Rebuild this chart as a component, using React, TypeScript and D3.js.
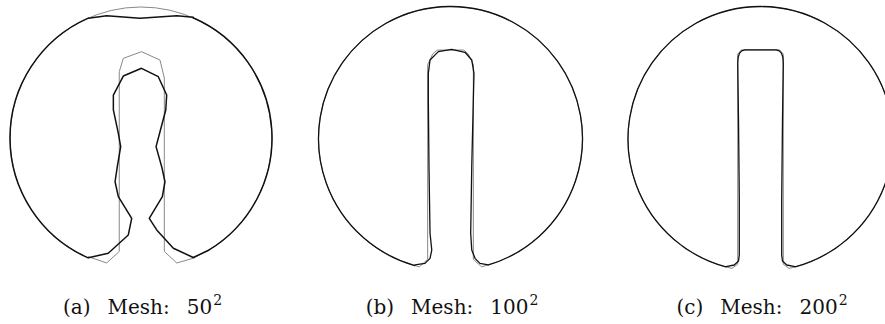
import React from "react";
import * as d3 from "d3";

// Interface contours in disk-local units: disk centre at (0,0), radius 100, y pointing up.
// Each contour is a list of point runs; consecutive runs are joined by the disk's circular arc
// (traversed clockwise on screen), and the last run wraps back to the first.

// (a) 50^2 mesh
const exactA: [number, number][][] = [[
  [41.2, -91.4], [27.3, -95.4], [17.8, -86.6], [17.8, 45.8], [14.5, 59.5], [0.4, 65.9],
  [-13.5, 60.8], [-16.6, 50.6], [-16.6, -86.6], [-26.2, -95.4], [-40.2, -90.6],
]];
const computedA: [number, number][][] = [
  [[-40.2, 91.4], [-26.2, 93.4], [-0.8, 91.4], [27.3, 93.4], [39.9, 92.1]],
  [
    [52.0, -85.5], [39.9, -91.2], [24.7, -84.2], [12.0, -70.2], [6.3, -61.3], [16.3, -44.8],
    [18.3, -33.4], [15.8, -21.9], [11.5, -6.6], [14.5, 4.8], [18.9, 21.4], [19.6, 32.8],
    [13.2, 46.8], [0.4, 53.2], [-13.5, 47.3], [-21.1, 32.8], [-21.1, 21.4], [-17.3, 3.6],
    [-15.5, -6.6], [-18.1, -21.9], [-19.8, -33.4], [-17.3, -44.8], [-7.1, -61.3],
    [-9.7, -74.0], [-25.0, -88.0], [-40.2, -91.4],
  ],
];

// (b) 100^2 mesh
const exactB: [number, number][][] = [[
  [23.5, -97.2], [17.3, -91.5], [17.3, 56], [13.5, 64], [10, 67], [-10, 67], [-13.5, 64],
  [-17.3, 56], [-17.3, -91.5], [-23.5, -97.2],
]];
const computedB: [number, number][][] = [[
  [28.6, -95.8], [22.3, -94.6], [18.6, -90.8], [16.1, -84.5], [15.3, -71.8], [16.1, -21.4],
  [17.3, 29.2], [17.8, 49.4], [16.1, 59.5], [11, 65.3], [0.9, 67.6], [-9.2, 65.8],
  [-15.5, 59.5], [-16.8, 49.4], [-16.8, 29.2], [-16.3, -21.4], [-15.5, -71.8],
  [-14.2, -84.5], [-15.5, -90.8], [-19.3, -94.6], [-26.9, -95.8],
]];

// (c) 200^2 mesh
const exactC: [number, number][][] = [[
  [21.5, -97.6], [17.2, -94.5], [17.2, 64], [14.5, 67.2], [-14.5, 67.2], [-17.2, 64],
  [-17.2, -94.5], [-21.5, -97.6],
]];
const computedC: [number, number][][] = [[
  [26.0, -96.4], [19.8, -95.1], [16.6, -92.1], [16.0, -87.5], [16.0, -46.0], [16.6, 14.3],
  [17.2, 57.0], [16.9, 61.5], [15.9, 64.6], [14.2, 66.5], [11.8, 67.3], [-11.8, 67.3],
  [-14.2, 66.5], [-15.9, 64.6], [-16.9, 61.5], [-17.2, 57.0],
  [-16.6, 14.3], [-16.0, -46.0], [-16.0, -87.5], [-16.6, -92.1], [-19.8, -95.1],
  [-26.0, -96.4],
]];

const captionTags = ["(a)", "(b)", "(c)"];
const captionWord = "Mesh:";
const captionSizes = ["50", "100", "200"];
const captionExponent = "2";

const panels = [
  { cx: 141, cy: 138, r: 131, exact: exactA, computed: computedA, heavy: 1.5 },
  { cx: 450.5, cy: 138.5, r: 132, exact: exactB, computed: computedB, heavy: 1.3 },
  { cx: 760.5, cy: 139, r: 132.5, exact: exactC, computed: computedC, heavy: 1.3 },
];

function contourPath(
  runs: [number, number][][],
  sx: d3.ScaleLinear<number, number>,
  sy: d3.ScaleLinear<number, number>,
  cx: number,
  cy: number,
  r: number
): string {
  const p = d3.path();
  runs.forEach((run, i) => {
    run.forEach(([u, v], j) => {
      if (i === 0 && j === 0) p.moveTo(sx(u), sy(v));
      else p.lineTo(sx(u), sy(v));
    });
    const last = run[run.length - 1];
    const next = runs[(i + 1) % runs.length][0];
    const a0 = Math.atan2(sy(last[1]) - cy, sx(last[0]) - cx);
    const a1 = Math.atan2(sy(next[1]) - cy, sx(next[0]) - cx);
    p.arc(cx, cy, r, a0, a1, false);
  });
  p.closePath();
  return p.toString();
}

export default function App() {
  return (
    <svg
      width={885}
      height={324}
      viewBox="0 0 885 324"
      style={{ position: "absolute", left: 0, top: 0, background: "#fff" }}
    >
      {panels.map((pn, i) => {
        const sx = d3.scaleLinear().domain([-100, 100]).range([pn.cx - pn.r, pn.cx + pn.r]);
        const sy = d3.scaleLinear().domain([-100, 100]).range([pn.cy + pn.r, pn.cy - pn.r]);
        return (
          <g key={i}>
            <path
              d={contourPath(pn.exact, sx, sy, pn.cx, pn.cy, pn.r)}
              fill="none"
              stroke="#7a7a7a"
              strokeWidth={0.9}
              strokeLinejoin="round"
            />
            <path
              d={contourPath(pn.computed, sx, sy, pn.cx, pn.cy, pn.r)}
              fill="none"
              stroke="#111"
              strokeWidth={pn.heavy}
              strokeLinejoin="round"
            />
            <text
              x={pn.cx + 1.5}
              y={314}
              textAnchor="middle"
              fontFamily="'DejaVu Serif', serif"
              fontSize={20}
              fill="#111"
            >
              <tspan>{captionTags[i]}</tspan>
              <tspan dx={17}>{captionWord}</tspan>
              <tspan dx={17}>{captionSizes[i]}</tspan>
              <tspan fontSize={14} dx={1} dy={-9}>{captionExponent}</tspan>
            </text>
          </g>
        );
      })}
    </svg>
  );
}
